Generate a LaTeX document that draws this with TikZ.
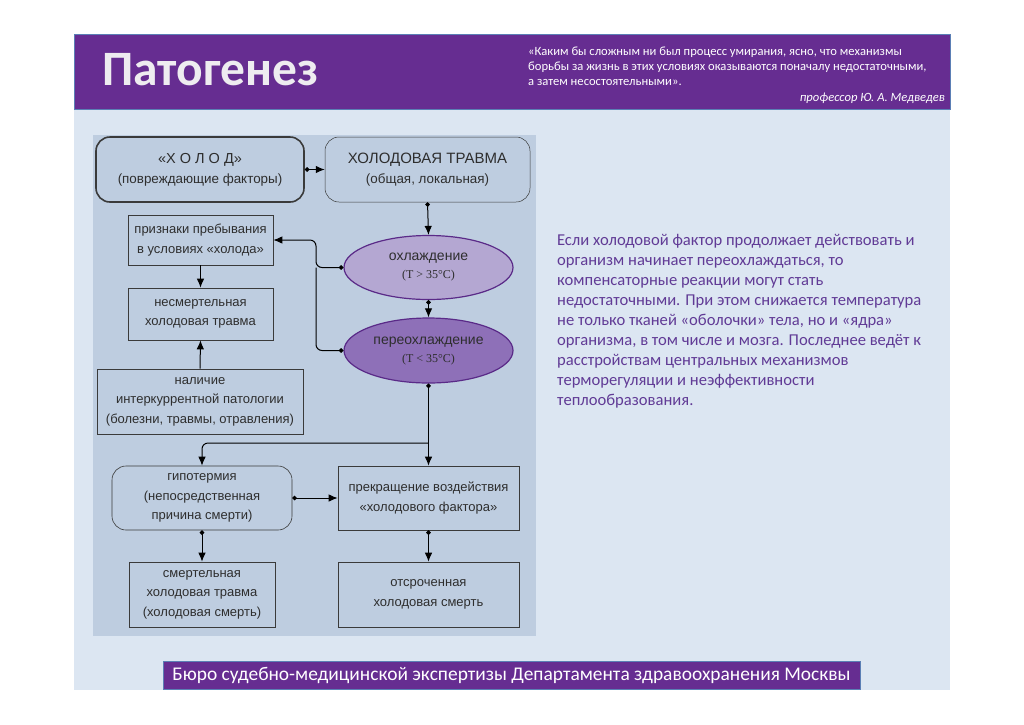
\documentclass[tikz,border=0pt]{standalone}
\usepackage{fontspec}
\setmainfont{Carlito}
\newfontfamily\arialf{Liberation Sans}
\newfontfamily\timesf{Liberation Serif}
\usetikzlibrary{arrows.meta,shapes.geometric,calc}
\definecolor{hdr}{HTML}{662D91}
\definecolor{hdrline}{HTML}{5B7FB5}
\definecolor{slidebg}{HTML}{DCE6F2}
\definecolor{panel}{HTML}{BECDE0}
\definecolor{ell1}{HTML}{B4A7D2}
\definecolor{ell2}{HTML}{8E70B8}
\definecolor{ellline}{HTML}{5A2A88}
\definecolor{boxline}{HTML}{3A3A3A}
\definecolor{dtext}{HTML}{2E2E2E}
\definecolor{bodytext}{HTML}{613B96}
\tikzset{
  dbox/.style={draw=boxline, line width=0.6pt, fill=panel, align=center, inner sep=2pt,
    text=dtext, font=\arialf\fontsize{13}{19.5}\selectfont},
  rbox/.style={dbox, rounded corners=14pt},
  ellnode/.style={ellipse, draw=ellline, line width=1.2pt, align=center, inner sep=0pt,
    minimum width=169pt, minimum height=64pt, text=dtext, font=\arialf\fontsize{14}{18}\selectfont},
  conn/.style={line width=1pt, draw=black, {Circle[length=4.5pt]}-{Latex[length=9pt,width=7.5pt]}},
  plainconn/.style={line width=1pt, draw=black, -{Latex[length=9pt,width=7.5pt]}},
}
\begin{document}
\begin{tikzpicture}[x=1pt,y=-1pt]
\useasboundingbox (0,0) rectangle (1024,724);
\fill[white] (0,0) rectangle (1024,724);
% slide
\fill[slidebg] (74,108) rectangle (950,690);
\fill[hdr] (74,34) rectangle (950,109);
\draw[hdrline, line width=0.8pt] (74,34) rectangle (950,109);
\node[anchor=base west, inner sep=0pt, text={rgb,255:red,238;green,236;blue,240}, font=\bfseries\fontsize{49.5}{50}\selectfont] (title) at (102,85) {Патогенез};
\node[anchor=base west, inner sep=0pt, text=white, font=\fontsize{12.6}{14}\selectfont] (q1) at (528,55) {«Каким бы сложным ни был процесс умирания, ясно, что механизмы};
\node[anchor=base west, inner sep=0pt, text=white, font=\fontsize{12.6}{14}\selectfont] (q2) at (528,70) {борьбы за жизнь в этих условиях оказываются поначалу недостаточными,};
\node[anchor=base west, inner sep=0pt, text=white, font=\fontsize{12.6}{14}\selectfont] (q3) at (528,85) {а затем несостоятельными».};
\node[anchor=base east, inner sep=0pt, text=white, font=\itshape\fontsize{12.6}{14}\selectfont] (auth) at (945,101) {профессор Ю. А. Медведев};
% panel
\fill[panel] (93,135) rectangle (536,636);
% nodes
\node[rbox, line width=1.6pt, minimum width=208pt, minimum height=65pt, font=\arialf\fontsize{13.4}{20}\selectfont] (holod) at (200,169.5) {{\fontsize{14.5}{20}\selectfont «Х О Л О Д»}\\(повреждающие факторы)};
\node[rbox, line width=0.5pt, minimum width=205pt, minimum height=65pt, font=\arialf\fontsize{13.4}{20}\selectfont] (trauma) at (427.5,169.5) {{\fontsize{15}{20}\selectfont ХОЛОДОВАЯ ТРАВМА}\\(общая, локальная)};
\node[dbox, minimum width=145pt, minimum height=50pt] (priz) at (200.5,240) {признаки пребывания\\в условиях «холода»};
\node[ellnode, fill=ell1] (ohl) at (428.5,267.5) {охлаждение\\{\timesf\fontsize{12}{14}\selectfont (T > 35°C)}};
\node[dbox, minimum width=145pt, minimum height=52pt] (nesm) at (200.5,314) {несмертельная\\холодовая травма};
\node[ellnode, fill=ell2, minimum height=65pt] (pere) at (428.5,350.5) {переохлаждение\\{\timesf\fontsize{12}{14}\selectfont (T < 35°C)}};
\node[dbox, minimum width=206pt, minimum height=65pt] (nal) at (200,401.5) {наличие\\интеркуррентной патологии\\(болезни, травмы, отравления)};
\node[rbox, minimum width=180pt, minimum height=64pt] (gipo) at (202,498) {гипотермия\\(непосредственная\\причина смерти)};
\node[dbox, minimum width=181pt, minimum height=64pt] (prekr) at (428.5,498) {прекращение воздействия\\«холодового фактора»};
\node[dbox, minimum width=146pt, minimum height=65pt] (smert) at (202,594.5) {смертельная\\холодовая травма\\(холодовая смерть)};
\node[dbox, minimum width=181pt, minimum height=65pt] (otsr) at (428.5,594.5) {отсроченная\\холодовая смерть};
\coordinate (jx) at (316,0);
\coordinate (br) at (428.5,443);
% connectors
\draw[conn] (holod.east) -- (trauma.west);
\draw[conn] (trauma.south) -- (ohl.north);
\draw[conn, rounded corners=6pt] (ohl.west) -| (jx|-priz.east) -- (priz.east);
\draw[line width=1pt, {Circle[length=4.5pt]}-, rounded corners=6pt] (pere.west) -| (jx|-ohl.west);
\draw[conn] (ohl.south) -- (pere.north);
\draw[plainconn] (priz.south) -- (nesm.north);
\draw[plainconn] (nal.north) -- (nesm.south);
\draw[conn] (pere.south) -- (prekr.north);
\draw[plainconn, rounded corners=6pt] (br) -| (gipo.north);
\draw[conn] (gipo.east) -- (prekr.west);
\draw[conn] (gipo.south) -- (smert.north);
\draw[conn] (prekr.south) -- (otsr.north);
% body text
\foreach \t [count=\i from 0] in {
  Если холодовой фактор продолжает действовать и,
  организм начинает переохлаждаться{,} то,
  компенсаторные реакции могут стать,
  недостаточными. При этом снижается температура,
  не только тканей «оболочки» тела{,} но и «ядра»,
  организма{,} в том числе и мозга. Последнее ведёт к,
  расстройствам центральных механизмов,
  терморегуляции и неэффективности,
  теплообразования.}
  \node[anchor=base west, inner sep=0pt, text=bodytext, font=\fontsize{16.6}{20}\selectfont] (body\i) at (557,{245+20.1*\i}) {\t};
% footer
\node[fill=hdr, draw=hdrline, line width=0.6pt, minimum width=697pt, minimum height=28pt, inner sep=0pt, text=white, font=\fontsize{19.4}{20}\selectfont] (foot) at (511.5,675) {Бюро судебно-медицинской экспертизы Департамента здравоохранения Москвы};
\end{tikzpicture}
\end{document}
